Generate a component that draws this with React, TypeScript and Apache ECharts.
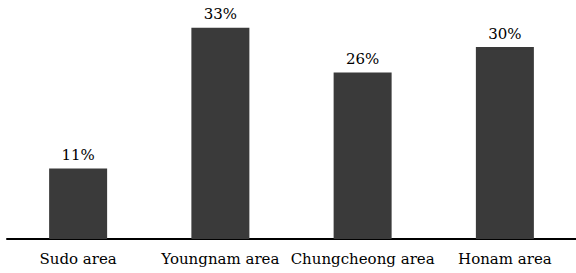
import React, { useEffect, useRef } from "react";
import * as echarts from "echarts";

const categories = ["Sudo area", "Youngnam area", "Chungcheong area", "Honam area"];
const values = [11, 33, 26, 30];

const FONT = "DejaVu Serif";

export default function App() {
  const ref = useRef<HTMLDivElement>(null);
  useEffect(() => {
    const chart = echarts.init(ref.current!, null, { renderer: "svg" });
    chart.setOption({
      animation: false,
      textStyle: { fontFamily: FONT },
      grid: { left: 7, right: -3, top: 15, bottom: 34 },
      xAxis: {
        type: "category",
        data: categories,
        axisLine: { lineStyle: { color: "#000", width: 2 } },
        axisTick: { show: false },
        axisLabel: {
          interval: 0,
          color: "#000",
          fontFamily: FONT,
          fontSize: 15,
          margin: 12,
        },
      },
      yAxis: {
        type: "value",
        min: 0,
        max: 35,
        show: false,
        splitLine: { show: false },
      },
      series: [
        {
          type: "bar",
          data: values,
          barWidth: 58,
          itemStyle: { color: "#3a3a3a" },
          label: {
            show: true,
            position: "top",
            distance: 6,
            formatter: "{c}%",
            color: "#000",
            fontFamily: FONT,
            fontSize: 15,
          },
        },
      ],
    });
    return () => chart.dispose();
  }, []);
  return <div ref={ref} style={{ width: 576, height: 273, position: "absolute", left: 0, top: 0, background: "#fff" }} />;
}
